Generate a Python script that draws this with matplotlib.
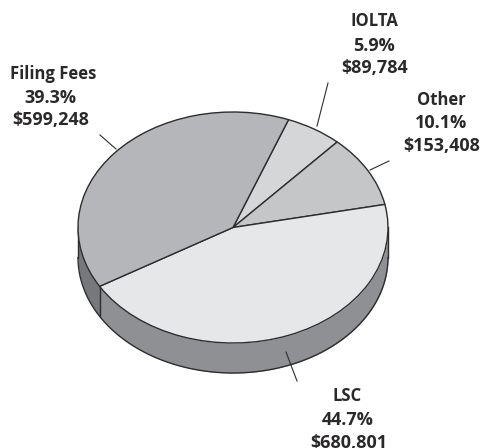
import numpy as np
import matplotlib
matplotlib.use("Agg")
import matplotlib.pyplot as plt

names = ["IOLTA", "Other", "LSC", "Filing Fees"]
values = [89784, 153408, 680801, 599248]
percents = ["5.9%", "10.1%", "44.7%", "39.3%"]
amounts = ["$89,784", "$153,408", "$680,801", "$599,248"]
top_colors = ["#d5d6d8", "#c5c6c8", "#e6e7e9", "#b5b6b9"]

W, H = 482, 448
CX, CY = 233, 227.5
RX, RY = 155, 115.5
DEPTH = 30 / RY
START = 69
EDGE = "#2e2d2e"


def px(x, y):
    # picture pixels -> pie units
    return (x - CX) / RX, (CY - y) / RY


fig = plt.figure(figsize=(W / 100, H / 100), dpi=100)
ax = fig.add_axes([0, 0, 1, 1])

ax.pie(values, startangle=START, counterclock=False, colors=top_colors,
       wedgeprops=dict(edgecolor=EDGE, linewidth=1.0, zorder=3))

# the elliptical look comes from the unequal axis scales
ax.set_aspect("auto")
ax.set_xlim(px(0, 0)[0], px(W, 0)[0])
ax.set_ylim(px(0, H)[1], px(0, 0)[1])
ax.axis("off")

# side wall, split where LSC meets Filing Fees
split = START - 360 * sum(values[:3]) / sum(values) + 360
t1 = np.radians(np.linspace(180, split, 80))
t2 = np.radians(np.linspace(split, 360, 200))
ax.fill_between(np.cos(t1), np.sin(t1), np.sin(t1) - DEPTH, color="#77787c", lw=0, zorder=1)
ax.fill_between(np.cos(t2), np.sin(t2), np.sin(t2) - DEPTH, color="#8f9094", lw=0, zorder=1)

t = np.radians(np.linspace(180, 360, 300))
ax.plot(np.cos(t), np.sin(t) - DEPTH, color=EDGE, lw=1.0, zorder=2)
ax.plot([-1, -1], [0, -DEPTH], color=EDGE, lw=1.0, zorder=2)
ax.plot([1, 1], [0, -DEPTH], color=EDGE, lw=1.0, zorder=2)
s = np.radians(split)
ax.plot([np.cos(s)] * 2, [np.sin(s), np.sin(s) - DEPTH], color=EDGE, lw=1.0, zorder=2)

# leader lines
leaders = [((328, 83), (317, 126)), ((389, 161), (370, 170)),
           ((286, 352), (297, 381)), ((100, 135), (116, 149))]
for a, b in leaders:
    xa, ya = px(*a)
    xb, yb = px(*b)
    ax.plot([xa, xb], [ya, yb], color=EDGE, lw=0.8, zorder=4)

# labels
label_x = [[374, 374, 375], [441, 441, 442], [347, 348, 349], [53, 50, 51]]
label_y = [[21, 46, 68], [100, 123, 146], [396, 420, 443], [74, 98, 120]]
row_sizes = [12, 13, 13]
for i, name in enumerate(names):
    rows = [name, percents[i], amounts[i]]
    for row, x, y, size in zip(rows, label_x[i], label_y[i], row_sizes):
        lx, ly = px(x, y)
        ax.text(lx, ly, row, ha="center", va="center", fontsize=size,
                fontweight="bold", family="Open Sans", color="#2a2829", zorder=5)

fig.savefig("out.png", dpi=100)
